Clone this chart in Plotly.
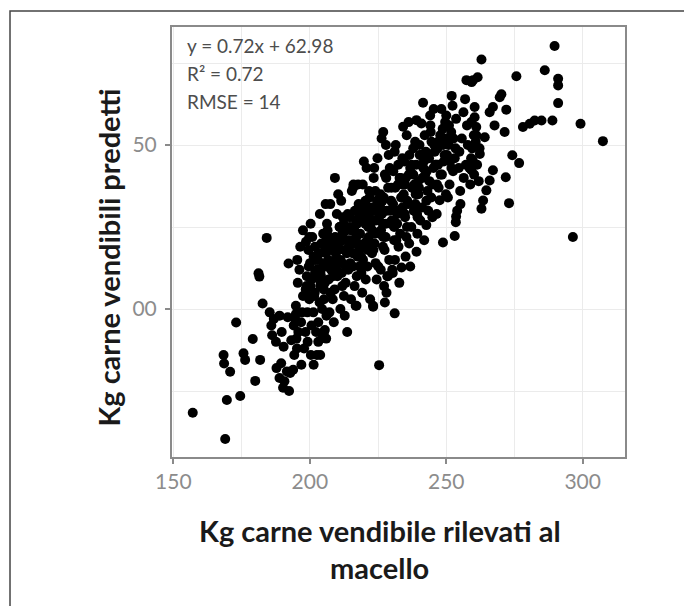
import plotly.graph_objects as go

# Observed (slaughterhouse) vs predicted saleable meat, kg.
# Lower tail of the cloud
low_observed = [157.1, 169.0, 169.6, 174.5, 180.0, 168.4, 168.6, 170.8, 175.7, 176.3,
                181.8, 179.1, 173.0, 182.7, 181.2, 181.5, 184.2, 192.2,
                187.8, 189.5, 191.6, 188.9, 190.7, 192.8, 190.2, 192.4, 193.9,
                185.9, 187.6, 186.8, 189.7, 191.9, 193.2, 195.3, 190.4, 186.2, 194.1,
                195.8, 188.9, 185.3, 194.9,
                201.4, 202.6, 203.1, 205.2, 206.0, 204.5, 203.8, 205.5,
                196.5, 199.8, 198.6, 203.0, 197.5, 200.3, 203.7, 205.8, 201.9]
low_predicted = [168.4, 160.4, 172.3, 173.5, 178.1, 186.0, 183.4, 180.9, 186.5, 184.5,
                 184.5, 190.9, 195.9, 201.7, 210.9, 209.9, 221.7, 213.9,
                 182.0, 183.5, 181.0, 179.0, 178.0, 180.5, 176.0, 175.0, 181.5,
                 195.0, 190.0, 197.0, 193.0, 197.5, 190.5, 188.0, 188.5, 192.0, 195.0,
                 193.0, 198.0, 199.0, 198.5,
                 183.0, 186.0, 190.0, 193.0, 191.0, 192.0, 186.0, 193.6,
                 219.0, 222.0, 220.5, 216.5, 224.0, 226.0, 229.0, 232.0, 219.0]

# Central band, outer part
core_observed = [
    194.3, 195.1, 196.8, 194.9, 197.5, 195.6, 196.2, 197.9, 198.4, 194.6, 197.2, 198.8, 195.4, 196.9,
    199.2, 200.6, 201.3, 199.8, 200.2, 201.9, 199.5, 200.9, 202.3, 201.6, 198.9, 200.4, 202.1, 199.1,
    203.1, 204.5, 205.2, 203.8, 204.1, 205.7, 203.4, 204.9, 206.1, 205.5, 202.8, 204.2, 206.3, 203.6, 205.9,
    207.2, 208.4, 209.1, 206.9, 207.8, 209.6, 208.2, 206.5, 209.9, 207.5, 208.8, 210.1, 206.8, 209.3, 209.2, 210.4, 207.6,
    211.2, 212.5, 213.1, 210.7, 211.8, 213.6, 212.3, 210.9, 213.9, 211.5, 212.8, 214.1, 210.6, 213.3, 211.9, 213.7, 212.1,
    215.1, 216.4, 217.2, 214.8, 215.7, 217.6, 216.3, 214.6, 217.9, 215.4, 216.8, 218.1, 214.9, 217.3, 216.0, 215.9, 217.7, 216.5,
    219.2, 220.5, 221.1, 218.8, 219.7, 221.6, 220.3, 218.6, 221.9, 219.4, 220.8, 222.1, 218.9, 221.3, 220.0, 219.8, 221.7, 217.1,
    223.2, 224.5, 225.1, 222.8, 223.7, 225.6, 224.3, 222.6, 225.9, 223.4, 224.8, 226.0, 222.9, 225.3, 224.1, 226.9, 226.3, 223.2, 223.6,
    227.2, 228.4, 229.1, 226.8, 227.8, 229.6, 228.2, 226.6, 229.9, 227.5, 228.9, 230.2, 227.5, 228.1, 228.6, 230.4, 226.8, 229.3, 227.9,
    231.1, 231.2, 232.5, 233.1, 230.8, 231.8, 233.6, 232.3, 230.6, 233.9, 231.5, 233.6, 232.8, 234.2, 231.1, 232.0, 233.3, 230.9,
    235.4, 235.1, 236.4, 237.2, 234.8, 235.7, 237.6, 236.3, 234.6, 237.9, 235.5, 236.8, 238.1, 234.9, 237.3, 236.2,
    239.1, 239.1, 240.9, 241.5, 239.4, 240.5, 241.1, 238.8, 239.7, 241.6, 240.3, 238.6, 241.9, 240.0, 239.3, 242.1,
    242.7, 243.4, 244.5, 245.1, 242.8, 243.7, 245.6, 244.3, 244.1, 245.4, 243.1, 246.0, 244.9, 242.5,
    248.8, 247.6, 247.2, 248.4, 249.1, 246.8, 247.8, 249.6, 248.2, 246.5, 249.9, 250.0, 247.0, 248.9,
    253.1, 253.5, 254.0, 253.6, 251.2, 252.5, 253.1, 250.8, 251.8, 253.6, 252.3, 250.6, 252.0, 251.4,
    255.1, 256.4, 257.2, 254.8, 255.7, 257.6, 256.3, 257.4, 255.2, 256.9, 254.6, 257.9,
    225.4,
]
core_predicted = [
    186, 191, 196, 201, 204, 208, 212, 188, 193, 197, 199, 207, 215, 183,
    190, 195, 199, 203, 207, 211, 218, 222, 193, 204, 210, 186, 215, 199,
    196, 200, 203, 207, 210, 213, 217, 223, 198, 208, 212, 220, 226, 202, 217,
    199, 203, 206, 209, 212, 215, 219, 224, 229, 232, 196, 210, 215, 222, 240, 235, 205,
    200, 204, 208, 211, 214, 217, 221, 225, 229, 233, 198, 212, 218, 224, 207, 193, 228,
    203, 207, 210, 214, 217, 220, 224, 228, 232, 236, 201, 213, 221, 226, 238, 237, 238, 230,
    205, 209, 213, 216, 219, 222, 226, 230, 234, 238, 243, 203, 211, 218, 229, 245, 236, 201,
    201, 209, 213, 217, 220, 223, 227, 231, 235, 240, 246, 212, 224, 229, 214, 254, 252, 200.7, 243,
    207, 210, 215, 219, 222, 226, 230, 233, 237, 241, 247, 212, 202, 205, 210, 211, 226, 243, 250,
    198.7, 215, 219, 223, 227, 230, 234, 238, 242, 246, 250, 212.7, 208, 255.6, 248, 226, 240, 221,
    222, 216, 220, 225, 229, 233, 237, 241, 245, 249, 253, 213, 230, 238, 244, 257,
    217.5, 257.6, 256.6, 262.9, 223, 227, 231, 235, 239, 243, 247, 251, 221, 237, 229, 253,
    225.6, 230, 234, 238, 242, 246, 250, 254, 259, 261, 236, 244, 228, 248,
    220.3, 233.2, 237, 241, 245, 249, 253, 257, 261, 229, 235, 259, 244, 250,
    222.3, 226.5, 230, 228.2, 238, 242, 246, 250, 254, 258, 262, 234, 265, 245,
    236, 240, 244, 248, 252, 256, 260, 269.8, 232, 264, 243, 250,
    182.9,
]

# Central band, dense ridge
ridge_observed = [
    198.5, 199.6, 200.7, 201.4, 199.0, 202.0, 200.1, 201.8,
    202.6, 203.3, 204.0, 204.8, 205.6, 203.9, 205.1, 206.0, 202.9,
    206.7, 207.4, 208.1, 208.9, 209.5, 207.0, 209.8, 208.5, 206.4,
    210.5, 211.3, 212.0, 212.7, 213.4, 211.0, 213.8, 210.2, 212.4, 211.7,
    214.4, 215.2, 216.1, 216.9, 217.5, 214.7, 215.8, 217.0, 218.0, 216.6,
    218.4, 219.1, 220.0, 220.7, 221.4, 219.5, 221.8, 218.2, 220.4, 221.0,
    222.3, 223.0, 223.9, 224.6, 225.4, 222.7, 225.8, 224.0, 223.3, 226.1,
    226.4, 227.1, 227.9, 228.7, 229.4, 226.9, 229.8, 228.0, 227.4, 230.0,
    230.5, 231.3, 232.1, 232.9, 233.5, 230.9, 233.9, 232.4, 231.7, 234.0,
    234.4, 235.2, 236.0, 236.8, 237.5, 234.9, 237.9, 236.5, 235.6,
    238.3, 239.0, 239.8, 240.6, 241.3, 238.7, 241.8, 240.2, 239.5,
    242.3, 243.0, 243.8, 244.6, 245.3, 242.7, 245.8, 244.2,
    246.3, 247.0, 247.9, 248.7, 249.4, 246.6, 249.8,
    250.3, 251.0, 251.9, 252.7, 253.4,
]
ridge_predicted = [
    206, 213, 209, 216, 204, 210, 214, 205,
    212, 217, 208, 214, 218, 211, 206, 221, 215,
    213, 218, 214, 221, 217, 222, 212, 210, 219,
    220, 215, 223, 218, 213, 225, 221, 214, 226, 211,
    219, 224, 220, 227, 216, 225, 213, 222, 229, 217,
    223, 227, 220, 231, 225, 215, 228, 218, 233, 221,
    226, 230, 223, 233, 227, 220, 231, 236, 218, 224,
    229, 234, 226, 237, 230, 222, 233, 240, 218, 227,
    232, 237, 229, 240, 234, 225, 238, 244, 221, 231,
    235, 240, 232, 243, 237, 228, 241, 247, 225,
    238, 244, 235, 247, 240, 232, 245, 250, 228,
    241, 247, 239, 251, 243, 233, 248, 256,
    244, 251, 241, 255, 247, 238, 252,
    247, 256, 243, 252, 249,
]

# Upper tail of the cloud
high_observed = [259.8, 259.3, 261.5, 262.9, 259.5, 260.1, 259.2, 260.4,
                 258.8, 260.2, 261.3, 259.1, 262.2, 260.8, 258.5, 261.9,
                 262.9, 263.5, 267.1, 265.9, 264.7, 271.8, 273.0, 274.2, 276.7,
                 269.6, 270.2, 272.0, 271.4, 267.7, 267.1, 265.9, 260.4, 261.0, 261.0,
                 264.1, 262.3, 259.7, 259.2,
                 278.1, 280.6, 282.4, 284.9, 288.9,
                 275.7, 286.1, 289.7, 291.0, 291.0, 291.0,
                 299.2, 307.4, 296.4]
high_predicted = [269.8, 269.2, 270.7, 276.1, 249.0, 253.0, 257.0, 261.6,
                  238.0, 241.0, 244.0, 246.0, 249.0, 251.0, 243.0, 239.0,
                  230.6, 233.1, 242.3, 239.2, 236.2, 240.2, 232.3, 246.9, 244.5,
                  264.6, 265.5, 260.8, 254.0, 256.0, 261.6, 260.0, 258.5, 255.5, 253.0,
                  252.4, 247.3, 245.4, 242.4,
                  255.5, 256.5, 257.5, 257.5, 257.5,
                  271.0, 272.8, 280.2, 270.2, 268.2, 262.8,
                  256.5, 251.2, 222.0]

fit_lines = ["y = 0.72x + 62.98", "R\u00b2 = 0.72", "RMSE = 14"]

x_all = low_observed + core_observed + ridge_observed + high_observed
y_all = low_predicted + core_predicted + ridge_predicted + high_predicted

GRID = "#ebebeb"
FRAME = "#8a8a8a"
TICKTXT = "#8c8c8c"
FONT = "Lato"

fig = go.Figure(go.Scatter(
    x=x_all, y=y_all, mode="markers",
    marker=dict(color="black", size=10, line=dict(width=0)),
    hoverinfo="skip",
))

axis_common = dict(
    showline=True, linecolor=FRAME, linewidth=2, mirror=True,
    ticks="outside", ticklen=5, tickwidth=1.5, tickcolor=FRAME,
    showgrid=True, gridcolor=GRID, gridwidth=1.2, zeroline=False,
    tick0=0, dtick=50,
    minor=dict(dtick=25, tick0=0, showgrid=True, gridcolor=GRID, gridwidth=1.2, ticks=""),
    tickfont=dict(family=FONT, size=21, color=TICKTXT),
)

fig.update_xaxes(range=[149.5, 315.5], **axis_common)
fig.update_yaxes(range=[154.9, 286.0], labelalias={"200": "00", "250": "50"},
                 ticklabelstandoff=4, **axis_common)

annotations = []
for i, line in enumerate(fit_lines):
    annotations.append(dict(
        text=line, xref="paper", yref="paper", x=0.029, y=[0.958, 0.893, 0.826][i],
        xanchor="left", yanchor="middle", showarrow=False,
        font=dict(family=FONT, size=19, color="#4d4d4d"),
    ))

title_font = dict(family=FONT, size=29, color="#1a1a1a", weight="bold")
annotations += [
    dict(text="Kg carne vendibile rilevati al", xref="paper", yref="paper",
         x=0.459, y=-0.170, xanchor="center", yanchor="middle", showarrow=False, font=title_font),
    dict(text="macello", xref="paper", yref="paper",
         x=0.459, y=-0.256, xanchor="center", yanchor="middle", showarrow=False, font=title_font),
    dict(text="Kg carne vendibili predetti", xref="paper", yref="paper",
         x=-0.141, y=0.464, xanchor="center", yanchor="middle", textangle=-90,
         showarrow=False, font=title_font),
]

fig.update_layout(
    width=684, height=606, autosize=False,
    margin=dict(l=172, r=59, t=27, b=149),
    paper_bgcolor="white", plot_bgcolor="white",
    showlegend=False,
    annotations=annotations,
    shapes=[dict(type="rect", xref="paper", yref="paper",
                 x0=-0.3576, x1=1.3, y0=-0.5, y1=1.0372,
                 line=dict(color="#444444", width=1.5), layer="below")],
)

fig.write_html("out.html")
